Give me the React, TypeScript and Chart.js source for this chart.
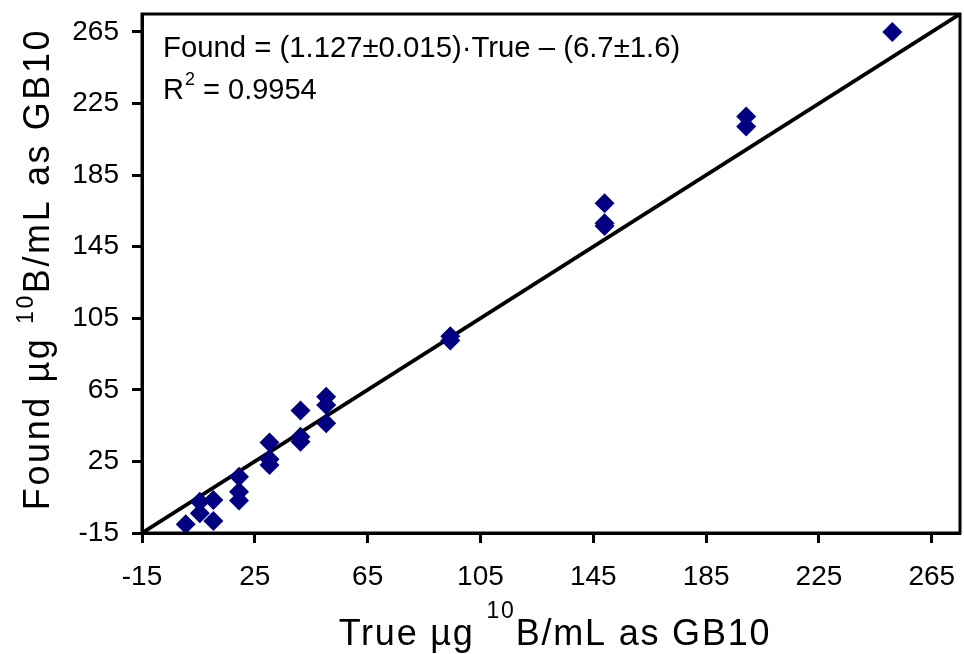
import React, { useEffect, useRef } from "react";
import { Chart, registerables } from "chart.js";

Chart.register(...registerables);

// ---- data ----
const trueValues = [0.5, 5.5, 5.5, 10.3, 10.3, 19.4, 19.4, 19.4, 30.2, 30.2, 30.2, 41.2, 41.2, 41.2, 50.3, 50.3, 50.3, 94.3, 94.3, 149, 149, 149, 199.2, 199.2, 251];
const foundValues = [-10.1, 2.5, -4, 3.4, -8.3, 16.5, 8.1, 3.1, 35.5, 26.2, 23, 53.4, 38.8, 36, 61.2, 56.5, 46.3, 95, 92.5, 169.3, 158.1, 156.6, 217.7, 212.1, 265];
const refLineX = [-15, 275];
const refLineY = [-15, 275];
const tickValues = [-15, 25, 65, 105, 145, 185, 225, 265];
const axisMin = -15;
const axisMax = 275;
const equationText = "Found = (1.127±0.015)·True – (6.7±1.6)";
const r2Label = "R";
const r2Sup = "2";
const r2Text = " = 0.9954";
const xTitleParts: [string, boolean][] = [["True µg ", false], ["10", true], ["B/mL as GB10", false]];
const yTitleParts: [string, boolean][] = [["Found µg ", false], ["10", true], ["B/mL as GB10", false]];

const FONT = "'Liberation Sans', Arial, Helvetica, sans-serif";

function drawRich(ctx: CanvasRenderingContext2D, parts: [string, boolean][], cx: number, baseY: number, mainSize: number, supSize: number, supRaise: number, spacing: number) {
  (ctx as any).letterSpacing = `${spacing}px`;
  const widths = parts.map(([t, sup]) => {
    ctx.font = `${sup ? supSize : mainSize}px ${FONT}`;
    return ctx.measureText(t).width;
  });
  const total = widths.reduce((a, b) => a + b, 0);
  let x = cx - total / 2;
  parts.forEach(([t, sup], i) => {
    ctx.font = `${sup ? supSize : mainSize}px ${FONT}`;
    ctx.fillText(t, x, sup ? baseY - supRaise : baseY);
    x += widths[i];
  });
  (ctx as any).letterSpacing = "0px";
}

const decorPlugin = {
  id: "decor",
  afterDraw(chart: any) {
    const ctx: CanvasRenderingContext2D = chart.ctx;
    const a = chart.chartArea;
    ctx.save();
    ctx.strokeStyle = "#000";
    ctx.lineWidth = 3;
    ctx.strokeRect(a.left, a.top, a.right - a.left, a.bottom - a.top);

    ctx.fillStyle = "#000";
    ctx.textAlign = "left";
    ctx.textBaseline = "alphabetic";
    // equation
    ctx.font = `29.3px ${FONT}`;
    ctx.fillText(equationText, a.left + 21, a.top + 43);
    // R^2
    let x = a.left + 21;
    const y2 = a.top + 85;
    ctx.font = `29px ${FONT}`;
    ctx.fillText(r2Label, x, y2);
    x += ctx.measureText(r2Label).width + 1;
    ctx.font = `18px ${FONT}`;
    ctx.fillText(r2Sup, x, y2 - 14);
    x += ctx.measureText(r2Sup).width;
    ctx.font = `29px ${FONT}`;
    ctx.fillText(r2Text, x, y2);

    // x title
    drawRich(ctx, xTitleParts, 555, 645, 36, 23, 27, 1.8);

    // y title
    ctx.translate(49, 269);
    ctx.rotate(-Math.PI / 2);
    drawRich(ctx, yTitleParts, 0, 0, 36, 23, 16, 2.6);
    ctx.restore();
  },
};

export default function App() {
  const ref = useRef<HTMLCanvasElement>(null);
  useEffect(() => {
    const points = trueValues.map((v, i) => ({ x: v, y: foundValues[i] }));
    const line = refLineX.map((v, i) => ({ x: v, y: refLineY[i] }));
    const axisCommon = (isY: boolean) => ({
      type: "linear" as const,
      min: axisMin,
      max: axisMax,
      afterBuildTicks: (scale: any) => {
        scale.ticks = tickValues.map((v) => ({ value: v }));
      },
      afterFit: (scale: any) => {
        if (isY) scale.width = 142;
        else scale.height = 121;
        scale.paddingTop = 0;
        scale.paddingBottom = 0;
        scale.paddingLeft = 0;
        scale.paddingRight = 0;
      },
      ticks: {
        color: "#000",
        font: { family: FONT, size: 28 },
        padding: isY ? 13 : 17,
        autoSkip: false,
        maxRotation: 0,
        callback: (v: any) => String(v),
      },
      grid: {
        display: true,
        drawOnChartArea: false,
        drawTicks: true,
        tickLength: 10,
        tickWidth: 3,
        tickColor: "#000",
        color: "#000",
      },
      border: { display: true, width: 3, color: "#000" },
      title: { display: false },
    });
    const chart = new Chart(ref.current!, {
      type: "scatter",
      data: {
        datasets: [
          {
            type: "line",
            data: line,
            borderColor: "#000",
            borderWidth: 3.8,
            pointRadius: 0,
            fill: false,
            order: 2,
          } as any,
          {
            type: "scatter",
            data: points,
            pointStyle: "rectRot",
            pointRadius: 10,
            backgroundColor: "#000080",
            borderColor: "#000080",
            borderWidth: 0,
            order: 1,
          } as any,
        ],
      },
      options: {
        responsive: false,
        animation: false,
        devicePixelRatio: 1,
        layout: { autoPadding: false, padding: { top: 14, right: 4, left: 0, bottom: 0 } },
        plugins: { legend: { display: false }, tooltip: { enabled: false } },
        scales: { x: axisCommon(false), y: axisCommon(true) } as any,
      },
      plugins: [decorPlugin],
    });
    return () => chart.destroy();
  }, []);
  return (
    <div style={{ position: "fixed", left: 0, top: 0, width: 964, height: 654, background: "#fff" }}>
      <canvas ref={ref} width={964} height={654} style={{ display: "block" }} />
    </div>
  );
}
